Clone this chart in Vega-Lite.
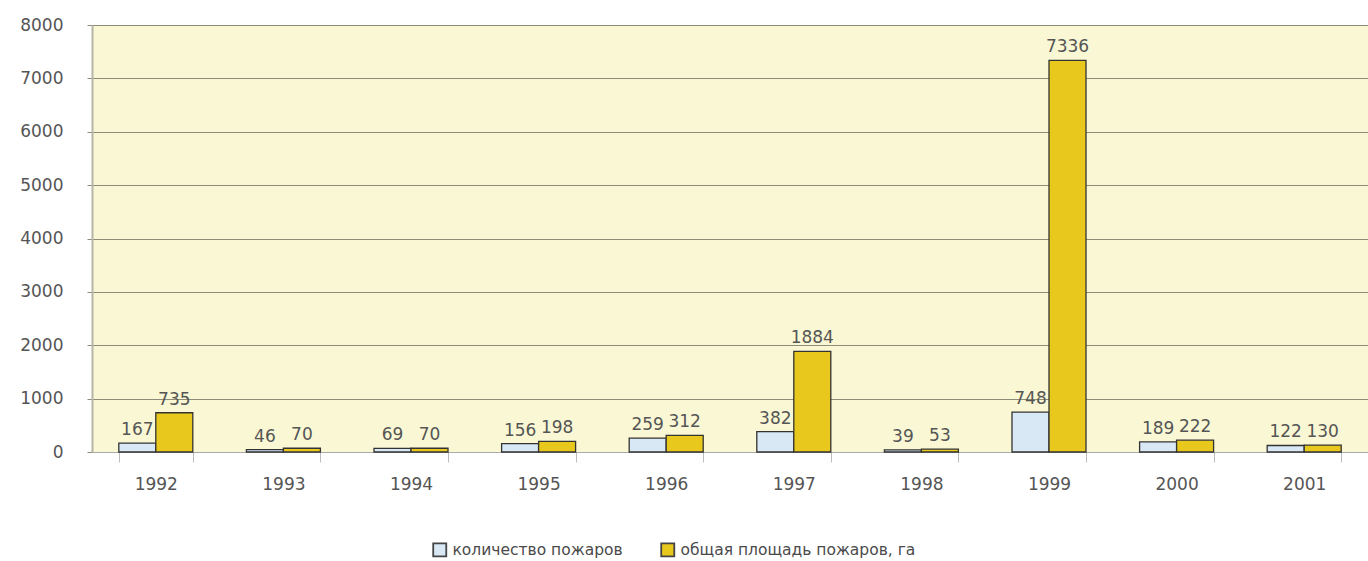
{
  "$schema": "https://vega.github.io/schema/vega-lite/v6.json",
  "width": 1276,
  "height": 427,
  "autosize": {"type": "none"},
  "padding": {"left": 92, "top": 25, "right": 0, "bottom": 109},
  "background": "white",
  "config": {
    "view": {"fill": "#FAF8D4", "stroke": null},
    "font": "DejaVu Sans",
    "axis": {"labelFont": "DejaVu Sans", "labelColor": "#555555", "labelFontSize": 17}
  },
  "data": {
    "values": [
      {"year": "1992", "series": "количество пожаров", "value": 167},
      {"year": "1992", "series": "общая площадь пожаров, га", "value": 735},
      {"year": "1993", "series": "количество пожаров", "value": 46},
      {"year": "1993", "series": "общая площадь пожаров, га", "value": 70},
      {"year": "1994", "series": "количество пожаров", "value": 69},
      {"year": "1994", "series": "общая площадь пожаров, га", "value": 70},
      {"year": "1995", "series": "количество пожаров", "value": 156},
      {"year": "1995", "series": "общая площадь пожаров, га", "value": 198},
      {"year": "1996", "series": "количество пожаров", "value": 259},
      {"year": "1996", "series": "общая площадь пожаров, га", "value": 312},
      {"year": "1997", "series": "количество пожаров", "value": 382},
      {"year": "1997", "series": "общая площадь пожаров, га", "value": 1884},
      {"year": "1998", "series": "количество пожаров", "value": 39},
      {"year": "1998", "series": "общая площадь пожаров, га", "value": 53},
      {"year": "1999", "series": "количество пожаров", "value": 748},
      {"year": "1999", "series": "общая площадь пожаров, га", "value": 7336},
      {"year": "2000", "series": "количество пожаров", "value": 189},
      {"year": "2000", "series": "общая площадь пожаров, га", "value": 222},
      {"year": "2001", "series": "количество пожаров", "value": 122},
      {"year": "2001", "series": "общая площадь пожаров, га", "value": 130}
    ]
  },
  "encoding": {
    "x": {
      "field": "year", "type": "nominal", "title": null,
      "scale": {"paddingInner": 0.42, "paddingOuter": 0.21},
      "axis": {
        "labelAngle": 0, "labelPadding": 14, "tickBand": "extent", "tickSize": 10,
        "tickColor": "#bbbbbb", "domainColor": "#aaaaaa", "domainWidth": 1, "grid": false
      }
    },
    "xOffset": {"field": "series", "type": "nominal", "sort": ["количество пожаров", "общая площадь пожаров, га"]},
    "y": {
      "field": "value", "type": "quantitative", "title": null,
      "scale": {"domain": [0, 8000], "nice": false},
      "axis": {
        "values": [0, 1000, 2000, 3000, 4000, 5000, 6000, 7000, 8000],
        "format": "d",
        "gridColor": "#8c8c78", "gridWidth": 1.2, "gridOpacity": 1,
        "tickColor": "#8c8c78", "tickSize": 5, "labelPadding": 24,
        "domainColor": "#b5b5a5", "domainWidth": 2
      }
    }
  },
  "layer": [
    {
      "mark": {"type": "bar", "stroke": "#333333", "strokeWidth": 1.3},
      "encoding": {
        "color": {
          "field": "series", "type": "nominal",
          "scale": {"domain": ["количество пожаров", "общая площадь пожаров, га"], "range": ["#D8E8F4", "#E8C81C"]},
          "legend": {
            "title": null, "orient": "none", "direction": "horizontal",
            "legendX": 340, "legendY": 517,
            "symbolType": "square", "symbolSize": 170, "symbolStrokeColor": "#444444", "symbolStrokeWidth": 1.8,
            "labelFontSize": 15.5, "labelColor": "#4a4a4a", "labelLimit": 400, "columnPadding": 34, "labelOffset": 5
          }
        }
      }
    },
    {
      "mark": {"type": "text", "baseline": "alphabetic", "dy": -8, "fontSize": 17, "color": "#555555"},
      "encoding": {"text": {"field": "value", "type": "quantitative", "format": "d"}}
    }
  ]
}
